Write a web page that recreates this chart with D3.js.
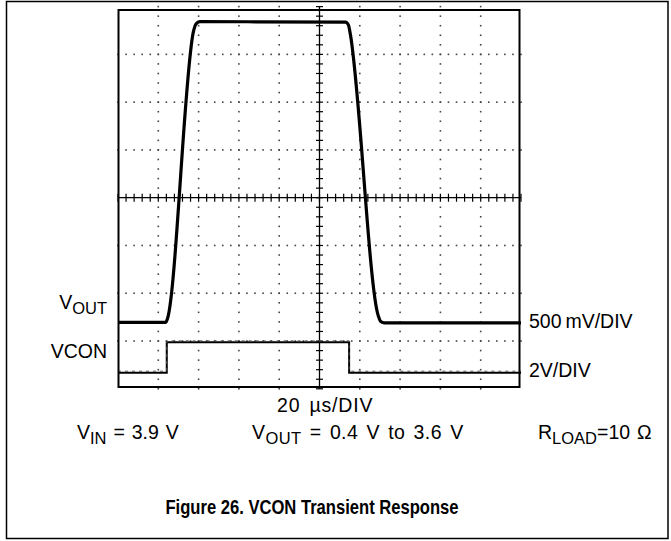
<!DOCTYPE html>
<html>
<head>
<meta charset="utf-8">
<script src="https://cdn.jsdelivr.net/npm/d3@7"></script>
<style>
  html, body { margin: 0; padding: 0; background: #fff; }
  svg { display: block; }
  text { font-family: "Liberation Sans", Arial, sans-serif; fill: #000; }
</style>
</head>
<body>
<svg id="chart" width="671" height="541"></svg>
<script>
// ---- data ----
const timeDivisions = 10;      // 20 µs/DIV
const voltDivisions = 8;
const usPerDiv = 20;
const voutVoltsPerDiv = 0.5;   // 500 mV/DIV
const vconVoltsPerDiv = 2;     // 2 V/DIV
const voutZeroDiv = 0.592;     // channel ground position (divisions from bottom)
const vconZeroDiv = 0.337;

// VOUT trace (time in µs, volts)
const voutTime  = [0, 23.8, 24.5, 37.6, 38.6, 40.6, 112.9, 114.4, 115.1, 129.2, 130.4, 132.2, 200];
const voutVolts = [0.40, 0.40, 0.435, 3.457, 3.52, 3.546, 3.541, 3.51, 3.44, 0.466, 0.408, 0.393, 0.393];

// VCON trace (time in µs, volts)
const vconTime  = [0, 24.2, 24.2, 114.7, 114.7, 200];
const vconVolts = [0, 0, 1.27, 1.27, 0, 0];

const channelLabels = ["V", "OUT"];
const channelLabel2 = "VCON";
const scaleLabels = ["500\u2009mV/DIV", "2V/DIV"];
const timeLabel = "20 \u00B5s/DIV";
const condVin = ["V", "IN", " = 3.9 V"];
const condVout = ["V", "OUT", " = 0.4 V to 3.6 V"];
const condRload = ["R", "LOAD", "=10 \u03A9"];
const title = "Figure 26. VCON Transient Response";

// ---- scales ----
const svg = d3.select("#chart");
const x = d3.scaleLinear().domain([0, timeDivisions * usPerDiv]).range([118, 521]);
const yDiv = d3.scaleLinear().domain([0, voltDivisions]).range([388.8, 6.6]);
const yVout = d3.scaleLinear()
  .domain([-voutZeroDiv * voutVoltsPerDiv, (voltDivisions - voutZeroDiv) * voutVoltsPerDiv])
  .range(yDiv.range());
const yVcon = d3.scaleLinear()
  .domain([-vconZeroDiv * vconVoltsPerDiv, (voltDivisions - vconZeroDiv) * vconVoltsPerDiv])
  .range(yDiv.range());

// outer frame
svg.append("rect").attr("x", 6.5).attr("y", 1.5).attr("width", 661.5).attr("height", 537)
  .attr("fill", "none").attr("stroke", "#000").attr("stroke-width", 1.5);

// ---- grid dots ----
const minorT = d3.range(0, timeDivisions * 5 + 1).map(i => i * usPerDiv / 5);
const minorD = d3.range(0, voltDivisions * 5 + 1).map(i => i / 5);
const gridG = svg.append("g");
const dots = [];
for (let d = 1; d < voltDivisions; d++) {
  if (d === voltDivisions / 2) continue;
  minorT.forEach(t => dots.push([x(t), yDiv(d)]));
}
for (let i = 1; i < timeDivisions; i++) {
  if (i === timeDivisions / 2) continue;
  minorD.forEach(d => dots.push([x(i * usPerDiv), yDiv(d)]));
}
gridG.selectAll("rect.dot").data(dots).join("rect").attr("class", "dot")
  .attr("x", d => d[0] - 0.8).attr("y", d => d[1] - 0.8)
  .attr("width", 1.6).attr("height", 1.6).attr("fill", "#444");

// center cross with ticks
const cx = x(timeDivisions * usPerDiv / 2), cy = yDiv(voltDivisions / 2);
gridG.append("line").attr("x1", x(0)).attr("x2", x(200)).attr("y1", cy).attr("y2", cy)
  .attr("stroke", "#000").attr("stroke-width", 1.3);
gridG.append("line").attr("x1", cx).attr("x2", cx).attr("y1", yDiv(0)).attr("y2", yDiv(8))
  .attr("stroke", "#000").attr("stroke-width", 1.3);
gridG.selectAll("line.tx").data(minorT).join("line").attr("class", "tx")
  .attr("x1", d => x(d)).attr("x2", d => x(d)).attr("y1", cy - 4).attr("y2", cy + 4)
  .attr("stroke", "#000").attr("stroke-width", 1.2);
gridG.selectAll("line.ty").data(minorD).join("line").attr("class", "ty")
  .attr("x1", cx - 3.5).attr("x2", cx + 3.5).attr("y1", d => yDiv(d)).attr("y2", d => yDiv(d))
  .attr("stroke", "#000").attr("stroke-width", 1.2);

// ---- traces ----
const voutLine = d3.line().x(d => x(d[0])).y(d => yVout(d[1])).curve(d3.curveMonotoneX);
svg.append("path").datum(voutTime.map((t, i) => [t, voutVolts[i]]))
  .attr("d", voutLine).attr("fill", "none").attr("stroke", "#000")
  .attr("stroke-width", 3.2).attr("stroke-linejoin", "round");

const vconLine = d3.line().x(d => x(d[0])).y(d => yVcon(d[1]));
svg.append("path").datum(vconTime.map((t, i) => [t, vconVolts[i]]))
  .attr("d", vconLine).attr("fill", "none").attr("stroke", "#000")
  .attr("stroke-width", 2);
svg.append("path").datum(vconTime.map((t, i) => [t, vconVolts[i]]))
  .attr("d", vconLine).attr("fill", "none").attr("stroke", "#555")
  .attr("stroke-width", 1).attr("stroke-dasharray", "3,4").attr("transform", "translate(0,-1.5)");

// plot frame
svg.append("rect").attr("x", 118.5).attr("y", 10).attr("width", 401).attr("height", 377)
  .attr("fill", "none").attr("stroke", "#000").attr("stroke-width", 2);

// ---- labels ----
const fs = 19.5, sub = 16.5;
function subText(parts, xPos, yPos, anchor, ws, ls) {
  const t = svg.append("text").attr("x", xPos).attr("y", yPos)
    .attr("font-size", fs).attr("text-anchor", anchor || "start")
    .style("word-spacing", (ws || 0) + "px").style("letter-spacing", (ls || 0) + "px");
  t.append("tspan").text(parts[0]);
  t.append("tspan").attr("font-size", sub).attr("dy", 5).text(parts[1]);
  if (parts[2] !== undefined) t.append("tspan").attr("dy", -5).text(parts[2]);
  return t;
}
subText(channelLabels, 107, 309, "end");
svg.append("text").attr("x", 107).attr("y", 358).attr("text-anchor", "end")
  .attr("font-size", fs).text(channelLabel2);
svg.append("text").attr("x", 529).attr("y", 328).attr("font-size", fs).text(scaleLabels[0]);
svg.append("text").attr("x", 529).attr("y", 377).attr("font-size", fs).text(scaleLabels[1]);
svg.append("text").attr("x", 277).attr("y", 411.5)
  .attr("font-size", fs).style("word-spacing", "3px").style("letter-spacing", "0.8px").text(timeLabel);
subText(condVin, 77, 439, "start", 1.5);
subText(condVout, 252, 439, "start", 2.5, 0.4);
subText(condRload, 538, 439, "start", 1.5);
svg.append("text").attr("transform", "translate(312,514) scale(0.83,1)")
  .attr("text-anchor", "middle")
  .attr("font-size", 20).attr("font-weight", "bold").text(title);
</script>
</body>
</html>
